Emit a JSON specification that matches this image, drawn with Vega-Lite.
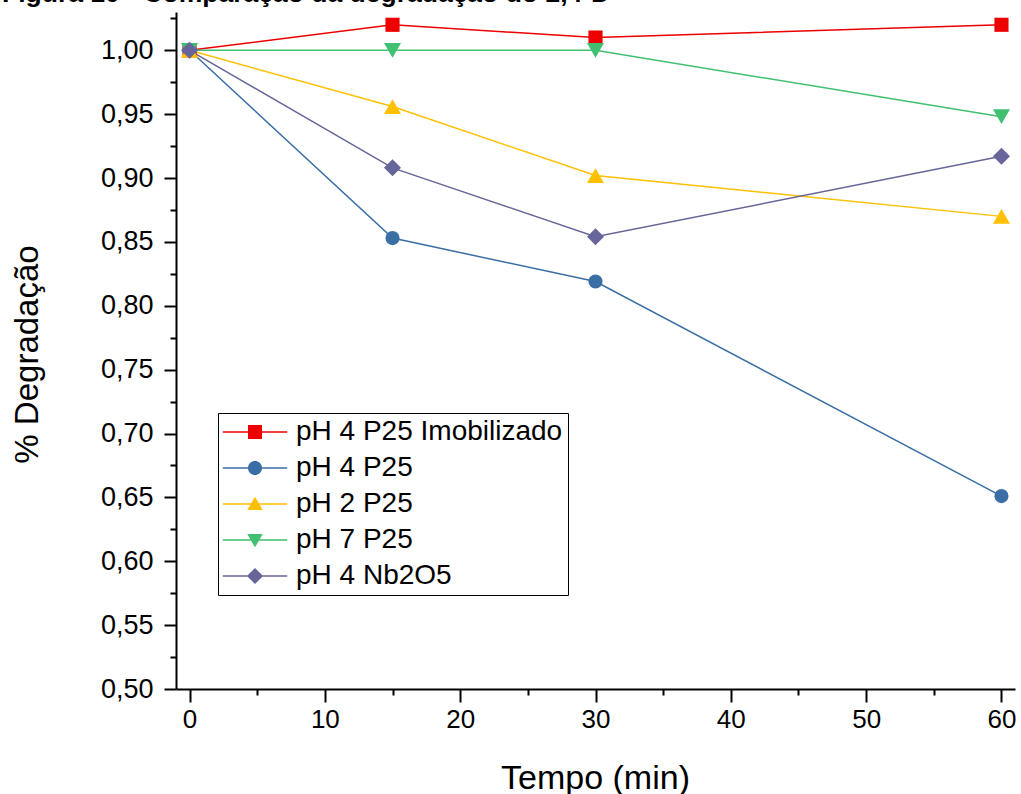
{
  "$schema": "https://vega.github.io/schema/vega-lite/v6.json",
  "autosize": {"type": "none"},
  "padding": {"left": 176, "top": 12, "right": 6, "bottom": 105},
  "width": 839,
  "height": 677,
  "background": "white",
  "title": {
    "text": "Figura 10 - Comparação da degradação do 2,4-D",
    "anchor": "start",
    "frame": "group",
    "font": "Liberation Sans",
    "fontSize": 26.5,
    "fontWeight": "bold",
    "color": "black",
    "baseline": "alphabetic",
    "offset": 6,
    "dx": -174,
    "dy": 30
  },
  "config": {
    "view": {"stroke": null},
    "font": "Liberation Sans"
  },
  "data": {
    "values": [
      {"t": 0, "v": 1.0, "s": "pH 4 P25 Imobilizado"},
      {"t": 15, "v": 1.02, "s": "pH 4 P25 Imobilizado"},
      {"t": 30, "v": 1.01, "s": "pH 4 P25 Imobilizado"},
      {"t": 60, "v": 1.02, "s": "pH 4 P25 Imobilizado"},
      {"t": 0, "v": 1.0, "s": "pH 4 P25"},
      {"t": 15, "v": 0.853, "s": "pH 4 P25"},
      {"t": 30, "v": 0.819, "s": "pH 4 P25"},
      {"t": 60, "v": 0.651, "s": "pH 4 P25"},
      {"t": 0, "v": 1.0, "s": "pH 2 P25"},
      {"t": 15, "v": 0.956, "s": "pH 2 P25"},
      {"t": 30, "v": 0.902, "s": "pH 2 P25"},
      {"t": 60, "v": 0.87, "s": "pH 2 P25"},
      {"t": 0, "v": 1.0, "s": "pH 7 P25"},
      {"t": 15, "v": 1.0, "s": "pH 7 P25"},
      {"t": 30, "v": 1.0, "s": "pH 7 P25"},
      {"t": 60, "v": 0.948, "s": "pH 7 P25"},
      {"t": 0, "v": 1.0, "s": "pH 4 Nb2O5"},
      {"t": 15, "v": 0.908, "s": "pH 4 Nb2O5"},
      {"t": 30, "v": 0.854, "s": "pH 4 Nb2O5"},
      {"t": 60, "v": 0.917, "s": "pH 4 Nb2O5"}
    ]
  },
  "encoding": {
    "x": {
      "field": "t", "type": "quantitative",
      "scale": {"domain": [-1, 61], "nice": false, "zero": false},
      "axis": {
        "values": [0, 5, 10, 15, 20, 25, 30, 35, 40, 45, 50, 55, 60],
        "labelExpr": "datum.value % 10 === 0 ? datum.label : ''",
        "grid": false,
        "labelOverlap": false,
        "labelFlush": false,
        "domainColor": "black", "domainWidth": 2,
        "tickColor": "black", "tickWidth": 2,
        "tickSize": {"condition": {"test": "datum.value % 10 === 0", "value": 13}, "value": 6},
        "labelPadding": 4,
        "labelFont": "Liberation Sans", "labelFontSize": 26, "labelColor": "black",
        "title": "Tempo (min)",
        "titleFont": "Liberation Sans", "titleFontSize": 34, "titleFontWeight": "normal", "titleColor": "black",
        "titleX": 419, "titleY": 99, "titleBaseline": "alphabetic", "titleAlign": "center"
      }
    },
    "y": {
      "field": "v", "type": "quantitative",
      "scale": {"domain": [0.5, 1.03], "nice": false, "zero": false},
      "axis": {
        "values": [0.5, 0.525, 0.55, 0.575, 0.6, 0.625, 0.65, 0.675, 0.7, 0.725, 0.75, 0.775, 0.8, 0.825, 0.85, 0.875, 0.9, 0.925, 0.95, 0.975, 1.0, 1.025],
        "labelExpr": "round(datum.value*1000) % 50 === 0 ? replace(format(datum.value, '.2f'), '.', ',') : ''",
        "grid": false,
        "labelOverlap": false,
        "labelFlush": false,
        "domainColor": "black", "domainWidth": 2,
        "tickColor": "black", "tickWidth": 2,
        "tickSize": {"condition": {"test": "round(datum.value*1000) % 50 === 0", "value": 12}, "value": 6},
        "labelPadding": 11,
        "labelFont": "Liberation Sans", "labelFontSize": 27, "labelColor": "black",
        "title": "% Degradação",
        "titleFont": "Liberation Sans", "titleFontSize": 33, "titleFontWeight": "normal", "titleColor": "black",
        "titleX": -139, "titleY": 342, "titleBaseline": "alphabetic", "titleAlign": "center", "titleAngle": -90
      }
    }
  },
  "layer": [
    {
      "mark": {"type": "line", "strokeWidth": 1.5},
      "encoding": {
        "color": {
          "field": "s", "type": "nominal", "legend": null,
          "scale": {
            "domain": ["pH 2 P25", "pH 4 Nb2O5", "pH 4 P25", "pH 4 P25 Imobilizado", "pH 7 P25"],
            "range": ["#ffc000", "#66669a", "#3a6ea5", "#ee0000", "#40c070"]
          }
        }
      }
    },
    {
      "transform": [{"filter": "datum.s === 'pH 4 P25 Imobilizado'"}],
      "mark": {"type": "point", "shape": "square", "filled": true, "size": 200, "opacity": 1},
      "encoding": {"color": {"field": "s", "type": "nominal", "legend": null}}
    },
    {
      "transform": [{"filter": "datum.s === 'pH 4 P25'"}],
      "mark": {"type": "point", "shape": "circle", "filled": true, "size": 200, "opacity": 1},
      "encoding": {"color": {"field": "s", "type": "nominal", "legend": null}}
    },
    {
      "transform": [{"filter": "datum.s === 'pH 2 P25'"}],
      "mark": {"type": "point", "shape": "triangle-up", "filled": true, "size": 290, "opacity": 1},
      "encoding": {"color": {"field": "s", "type": "nominal", "legend": null}}
    },
    {
      "transform": [{"filter": "datum.s === 'pH 7 P25'"}],
      "mark": {"type": "point", "shape": "triangle-down", "filled": true, "size": 290, "opacity": 1},
      "encoding": {"color": {"field": "s", "type": "nominal", "legend": null}}
    },
    {
      "transform": [{"filter": "datum.s === 'pH 4 Nb2O5'"}],
      "mark": {"type": "point", "shape": "diamond", "filled": true, "size": 290, "opacity": 1},
      "encoding": {"color": {"field": "s", "type": "nominal", "legend": null}}
    },
    {
      "mark": {"type": "point", "filled": true, "opacity": 0, "size": 196},
      "encoding": {
        "fill": {
          "field": "s", "type": "nominal",
          "scale": {
            "domain": ["pH 4 P25 Imobilizado", "pH 4 P25", "pH 2 P25", "pH 7 P25", "pH 4 Nb2O5"],
            "range": ["#ee0000", "#3a6ea5", "#ffc000", "#40c070", "#66669a"]
          },
          "legend": {
            "title": null, "orient": "none", "legendX": 42, "legendY": 401,
            "symbolSize": 196, "symbolOffset": 18, "labelOffset": 27,
            "labelFont": "Liberation Sans", "labelFontSize": 28, "labelColor": "black", "labelLimit": 400,
            "strokeColor": "black", "padding": 5, "rowPadding": 8,
            "symbolOpacity": 1, "symbolStrokeWidth": 0
          }
        },
        "shape": {
          "field": "s", "type": "nominal",
          "scale": {
            "domain": ["pH 4 P25 Imobilizado", "pH 4 P25", "pH 2 P25", "pH 7 P25", "pH 4 Nb2O5"],
            "range": [
              "M-4.6,-0.1H-1V-1H1V-0.1H4.6V0.1H1V1H-1V0.1H-4.6Z",
              "M-4.6,-0.1H-0.995A1,1 0 0 1 0.995,-0.1H4.6V0.1H0.995A1,1 0 0 1 -0.995,0.1H-4.6Z",
              "M-4.6,-0.1H-0.55L0,-1.05L0.55,-0.1H4.6V0.1H0.67L1.1,0.85H-1.1L-0.67,0.1H-4.6Z",
              "M-4.6,-0.1H-0.67L-1.1,-0.85H1.1L0.67,-0.1H4.6V0.1H0.55L0,1.05L-0.55,0.1H-4.6Z",
              "M-4.6,-0.1H-1.05L0,-1.15L1.05,-0.1H4.6V0.1H1.05L0,1.15L-1.05,0.1H-4.6Z"
            ]
          },
          "legend": {
            "title": null, "orient": "none", "legendX": 42, "legendY": 401,
            "symbolSize": 196, "symbolOffset": 18, "labelOffset": 27,
            "labelFont": "Liberation Sans", "labelFontSize": 28, "labelColor": "black", "labelLimit": 400,
            "strokeColor": "black", "padding": 5, "rowPadding": 8,
            "symbolOpacity": 1, "symbolStrokeWidth": 0
          }
        }
      }
    }
  ]
}
